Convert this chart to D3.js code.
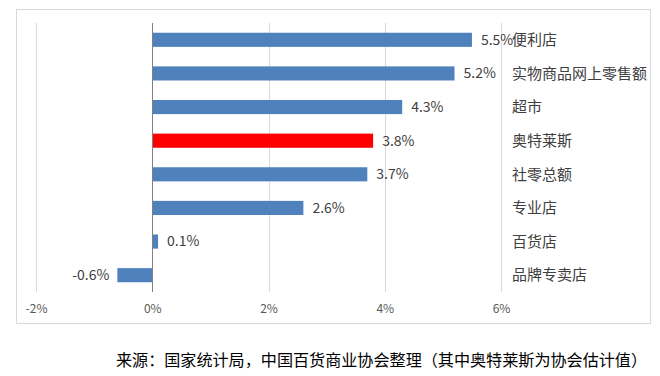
<!DOCTYPE html>
<html>
<head>
<meta charset="utf-8">
<script src="https://cdn.jsdelivr.net/npm/d3@7"></script>
<style>
  html, body { margin: 0; padding: 0; background: #fff; }
  svg { display: block; font-family: "Noto Sans CJK SC", "Noto Sans", sans-serif; }
</style>
</head>
<body>
<div id="chart"></div>
<script>
/** data */
const categories = ["便利店", "实物商品网上零售额", "超市", "奥特莱斯", "社零总额", "专业店", "百货店", "品牌专卖店"];
const values = [5.5, 5.2, 4.3, 3.8, 3.7, 2.6, 0.1, -0.6];
const highlight = ["奥特莱斯"];
const ticks = [-2, 0, 2, 4, 6];
const source = "来源：国家统计局，中国百货商业协会整理（其中奥特莱斯为协会估计值）";

const width = 660, height = 376;
const svg = d3.select("#chart").append("svg").attr("width", width).attr("height", height);

/** outer frame */
svg.append("rect")
  .attr("x", 16.5).attr("y", 9.5)
  .attr("width", 634).attr("height", 314)
  .attr("fill", "none").attr("stroke", "#d9d9d9");

/** scales */
const x = d3.scaleLinear().domain([-2, 6]).range([36, 501]);
const y = d3.scaleBand().domain(categories).range([23, 292]).paddingInner(0.58).paddingOuter(0.29);

/** gridlines */
svg.append("g")
  .selectAll("line")
  .data(ticks.filter((t) => t !== 0))
  .join("line")
  .attr("x1", (d) => Math.round(x(d)) + 0.5)
  .attr("x2", (d) => Math.round(x(d)) + 0.5)
  .attr("y1", 23).attr("y2", 292)
  .attr("stroke", "#d9d9d9");

/** bars */
svg.append("g")
  .selectAll("rect")
  .data(categories)
  .join("rect")
  .attr("x", (d, i) => x(Math.min(0, values[i])))
  .attr("y", (d) => y(d))
  .attr("width", (d, i) => Math.abs(x(values[i]) - x(0)))
  .attr("height", y.bandwidth())
  .attr("fill", (d) => (highlight.includes(d) ? "#ff0000" : "#4f81bd"));

/** zero line */
svg.append("line")
  .attr("x1", Math.round(x(0)) + 0.5).attr("x2", Math.round(x(0)) + 0.5)
  .attr("y1", 23).attr("y2", 292)
  .attr("stroke", "#808080");

/** value labels */
svg.append("g")
  .selectAll("text")
  .data(categories)
  .join("text")
  .attr("x", (d, i) => x(values[i]) + (values[i] < 0 ? -8 : 9))
  .attr("y", (d) => y(d) + y.bandwidth() / 2)
  .attr("dy", "0.35em")
  .attr("text-anchor", (d, i) => (values[i] < 0 ? "end" : "start"))
  .attr("font-size", 14)
  .attr("fill", "#404040")
  .text((d, i) => `${values[i].toFixed(1)}%`);

/** category labels */
svg.append("g")
  .selectAll("text")
  .data(categories)
  .join("text")
  .attr("x", 512)
  .attr("y", (d) => y(d) + y.bandwidth() / 2)
  .attr("dy", "0.35em")
  .attr("font-size", 15)
  .attr("fill", "#404040")
  .text((d) => d);

/** x axis */
const xAxis = d3.axisBottom(x).tickValues(ticks).tickSize(0).tickPadding(0).tickFormat((d) => `${d}%`);
svg.append("g")
  .attr("transform", "translate(0, 304)")
  .call(xAxis)
  .call((g) => g.select(".domain").remove())
  .call((g) => g.selectAll("text")
    .attr("font-size", 12)
    .attr("fill", "#595959")
    .attr("font-family", "\"Noto Sans CJK SC\", \"Noto Sans\", sans-serif"));

/** source note */
svg.append("text")
  .attr("x", 381.5)
  .attr("y", 360)
  .attr("dy", "0.35em")
  .attr("text-anchor", "middle")
  .attr("font-size", 16.1)
  .attr("fill", "#000")
  .text(source);
</script>
</body>
</html>
